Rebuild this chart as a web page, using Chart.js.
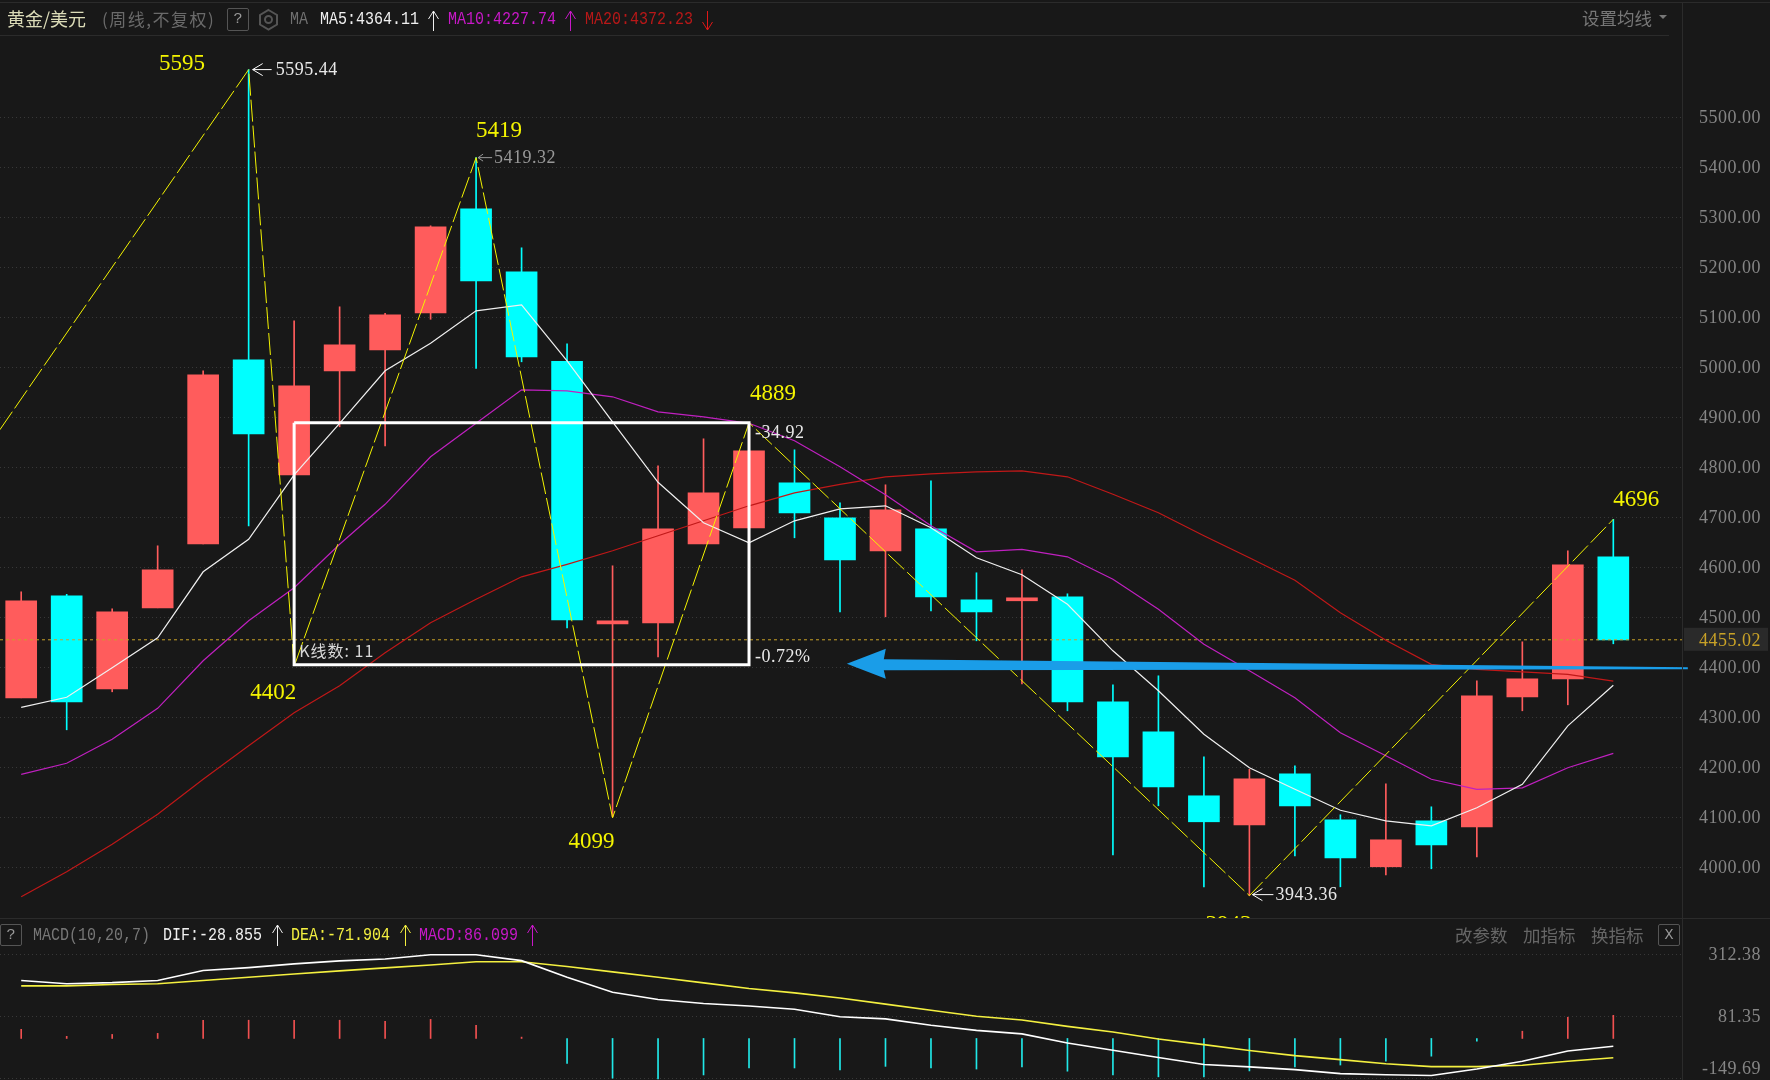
<!DOCTYPE html>
<html>
<head>
<meta charset="utf-8">
<script src="https://cdn.jsdelivr.net/npm/chart.js@4"></script>
<style>
html, body { margin: 0; padding: 0; background: #181818; overflow: hidden; }
#page { position: relative; width: 1770px; height: 1080px; background: #181818; overflow: hidden; }
canvas { position: absolute; left: 0; }
.t { position: absolute; white-space: pre; line-height: 1; transform-origin: left center; }
.ln { position: absolute; background: #2b2b2b; }
.box { position: absolute; border: 1px solid #555; border-radius: 2px; box-sizing: border-box; color: #999; text-align: center; font: 15px "Liberation Mono"; line-height: 21px; }
svg { position: absolute; left: 0; top: 0; }
</style>
</head>
<body>
<div id="page">
    <canvas id="kline" width="1770" height="918" style="top:0"></canvas>
    <canvas id="macd" width="1770" height="162" style="top:918px"></canvas>
    <div class="ln" style="left:0;top:2px;width:1770px;height:1px"></div>
    <div class="ln" style="left:0;top:35px;width:1669px;height:1px"></div>
    <div class="ln" style="left:1682px;top:3px;width:1px;height:1077px"></div>
    <div class="ln" style="left:0;top:918px;width:1770px;height:1px"></div>
    <div class="box" style="left:227px;top:8px;width:22px;height:23px">?</div>
    <div class="box" style="left:0;top:924px;width:22px;height:22px">?</div>
    <div class="box" style="left:1658px;top:924px;width:22px;height:22px">X</div>
    <svg id="icons" width="1770" height="1080"></svg>
</div>
<script>
// 周线K线
var indexes = [0,1,2,3,4,5,6,7,8,9,10,11,12,13,14,15,16,17,18,19,20,21,22,23,24,25,26,27,28,29,30,31,32,33,34,35];
var opens = [4339,4543,4357,4519,4647,5015,4785,4993,5035,5109,5317,5191,5012,4487,4489,4647,4679,4769,4699,4633,4677,4535,4533,4541,4331,4271,4143,4085,4187,4095,4001,4093,4081,4341,4377,4621];
var closes = [4533,4331,4511,4595,4985,4867,4963,5045,5105,5281,5173,5021,4495,4493,4677,4749,4833,4709,4615,4715,4541,4511,4539,4331,4221,4161,4091,4177,4123,4019,4055,4045,4343,4377,4605,4455];
var highs = [4551,4546,4517,4643,4993,5595.44,5093,5121,5108,5283,5419.32,5239,5047,4603,4803,4857,4889,4835,4729,4765,4773,4589,4595,4547,4365,4383,4221,4196,4203,4105,4167,4121,4373,4451,4633,4696];
var lows = [4339,4275,4351,4519,4647,4683,4785,4881,4843,5096,4998,5011,4479,4101,4421,4647,4679,4659,4511,4501,4513,4453,4367,4313,4025,4123,3961,3943.36,4023,3961,3985,3997,4021,4313,4325,4447];

// 均线
var ma5 = [4320,4340,4399,4459,4591,4656,4785,4888,4993,5048,5113,5125,5013,4891,4770,4689,4649,4693,4717,4723,4679,4619,4585,4526,4433,4353,4266,4199,4156,4114,4093,4083,4119,4166,4283,4364.11];
var ma10 = [4186,4208,4256,4318,4413,4493,4559,4646,4726,4821,4888,4955,4953,4941,4911,4901,4888,4853,4801,4745,4683,4631,4636,4621,4576,4516,4446,4393,4339,4269,4223,4176,4156,4159,4199,4227.74];
var ma20 = [3941,3991,4046,4106,4176,4243,4309,4363,4429,4489,4536,4581,4606,4633,4663,4693,4723,4749,4766,4781,4787,4791,4793,4781,4746,4709,4663,4619,4574,4509,4454,4406,4396,4391,4386,4372.23];

// 波段转折点
var zigIndexes = [-0.47,5,6,10,13,16,27,35];
var zigValues = [4875,5595.44,4402,5419.32,4099,4889,3943.36,4696];
var pivotLabels = ["5595","5419","4402","4099","4889","3943","4696"];
var pivotIndexes = [5,10,6,13,16,27,35];
var pivotValues = [5595.44,5419.32,4402,4099,4889,3943.36,4696];

// 区间框
var rangeIndexes = [6,16,16,6,6];
var rangeValues = [4889,4889,4405,4405,4889];

var lastPrice = 4455.02;
var priceTicks = [4000,4100,4200,4300,4400,4500,4600,4700,4800,4900,5000,5100,5200,5300,5400,5500];

// MACD
var dif = [216,204,208,216,253,264,278,289,296,312,312,290,228,172,145,130,121,109,81,73,49,30,17,-17,-44,-71,-97,-106,-116,-131,-135,-138,-114,-85,-47,-28.855];
var dea = [196,196,201,204,216,228,240,252,263,274,286,286,268,248,228,207,186,170,151,128,105,83,69,45,24,-2,-23,-45,-64,-79,-94,-105,-105,-100,-85,-71.904];
var hist = [34,8,15,19,68,68,68,68,64,71,49,5,-93,-148,-151,-136,-110,-110,-117,-104,-110,-114,-106,-122,-136,-143,-143,-121,-106,-99,-85,-66,-10,27,79,86.099];
var macdTicks = [312.38,81.35,-149.69];

var RED = "#ff5c5c", CYAN = "#00ffff", YELLOW = "#f4f400", BG_GRID = "#383838";
var MONO = '"Liberation Mono"', SERIF = '"Liberation Serif"', CJK = '"Noto Sans CJK SC"';

Chart.defaults.animation = false;
Chart.defaults.responsive = false;

var lineOf = function (values) {
    return values.map(function (v, i) { return { x: indexes[i], y: v }; });
};
var xyOf = function (xs, ys) {
    return xs.map(function (x, i) { return { x: x, y: ys[i] }; });
};
var lineSet = function (data, color, width, order, dash) {
    return { type: "line", data: data, borderColor: color, borderWidth: width, pointRadius: 0, tension: 0, order: order, borderDash: dash || [] };
};
var barSet = function (data, colors, thick, order) {
    return { type: "bar", data: data, backgroundColor: colors, barThickness: thick, borderWidth: 0, grouped: false, order: order };
};
var xScale = { type: "linear", display: false, min: -0.466, max: 36.51, offset: false, grid: { display: false } };

var yScale = function (min, max, ticks) {
    return {
        position: "right", min: min, max: max,
        afterBuildTicks: function (axis) { axis.ticks = ticks.map(function (v) { return { value: v }; }); },
        afterFit: function (axis) { axis.width = 79; axis.paddingTop = 0; axis.paddingBottom = 0; },
        grid: { color: BG_GRID, drawTicks: false },
        border: { display: false, dash: [1, 3] },
        ticks: {
            padding: 8, crossAlign: "far", color: "#858585", autoSkip: false, labelOffset: 1,
            font: { family: SERIF, size: 18 },
            callback: function (v) {
                var s = Number(v).toFixed(2);
                // 最下面的标签往上提，不出窗格
                return v < 0 ? [s, ""] : s;
            }
        }
    };
};

var drawArrow = function (ctx, x1, x2, y, color, head) {
    ctx.strokeStyle = color;
    ctx.lineWidth = 1;
    ctx.beginPath();
    ctx.moveTo(x2, y); ctx.lineTo(x1, y);
    ctx.moveTo(x1 + head, y - head / 2 - 1); ctx.lineTo(x1, y); ctx.lineTo(x1 + head, y + head / 2 + 1);
    ctx.stroke();
};

// 刻度数字略微拉宽
var tickSpacing = {
    id: "tickSpacing",
    beforeDraw: function (chart) { chart.ctx.letterSpacing = "0.5px"; }
};

// 图上的文字、箭头、现价标签
var annotate = {
    id: "annotate",
    afterDatasetsDraw: function (chart) {
        var ctx = chart.ctx, xs = chart.scales.x, ys = chart.scales.y, area = chart.chartArea;
        var px = function (i) { return xs.getPixelForValue(i); };
        var py = function (v) { return ys.getPixelForValue(v); };
        var text = function (s, x, y, color, font) {
            ctx.fillStyle = color; ctx.font = font; ctx.textAlign = "left"; ctx.textBaseline = "middle";
            ctx.fillText(s, x, y + 1);
        };

        ctx.save();
        ctx.letterSpacing = "0px";
        ctx.beginPath();
        ctx.rect(area.left, area.top, area.right - area.left, area.bottom - area.top);
        ctx.clip();
        var offsets = [[-89.6, -7], [0, -28], [-44, 26], [-44, 23], [1, -30], [-44, 28], [0, -20]];
        pivotLabels.forEach(function (s, k) {
            text(s, px(pivotIndexes[k]) + offsets[k][0], py(pivotValues[k]) + offsets[k][1], YELLOW, "23px " + SERIF);
        });
        ctx.restore();

        ctx.letterSpacing = "0.5px";
        var small = "18px " + SERIF;
        drawArrow(ctx, px(5) + 4, px(5) + 23, py(5595.44), "#ffffff", 10);
        text("5595.44", px(5) + 27, py(5595.44), "#e8e8e8", small);
        drawArrow(ctx, px(10) + 2, px(10) + 16, py(5419.32), "#999999", 5);
        text("5419.32", px(10) + 18, py(5419.32), "#999999", small);
        drawArrow(ctx, px(27) + 3, px(27) + 24, py(3943.36) - 1, "#ffffff", 10);
        text("3943.36", px(27) + 26, py(3943.36) - 1, "#e8e8e8", small);
        text("-34.92", px(16) + 6, py(4870), "#e8e8e8", small);
        text("-0.72%", px(16) + 6, py(4422), "#e8e8e8", small);
        ctx.letterSpacing = "1px";
        text("K线数: 11", px(6) + 5, py(4435), "#d8d8d8", "16px " + CJK);
        ctx.letterSpacing = "0.5px";

        // 现价
        ctx.fillStyle = "#2a2a2a";
        ctx.fillRect(area.right + 2, py(lastPrice) - 12, 84, 23);
        text(lastPrice.toFixed(2), area.right + 17, py(lastPrice), "#c9a227", small);

        // 蓝色箭头
        var tipX = px(18.15), tipY = py(4407);
        ctx.fillStyle = "#1a9de8";
        ctx.beginPath();
        ctx.moveTo(tipX, tipY);
        ctx.lineTo(tipX + 39, tipY - 15);
        ctx.lineTo(tipX + 37, tipY - 4.5);
        ctx.lineTo(tipX + 841, tipY + 3.5);
        ctx.lineTo(tipX + 841, tipY + 5.5);
        ctx.lineTo(tipX + 37, tipY + 6.5);
        ctx.lineTo(tipX + 39, tipY + 15);
        ctx.closePath();
        ctx.fill();
    }
};

new Chart(document.getElementById("kline"), {
    type: "bar",
    data: {
        datasets: [
            barSet(indexes.map(function (i) { return { x: i, y: [lows[i], highs[i]] }; }),
                indexes.map(function (i) { return closes[i] >= opens[i] ? RED : CYAN; }), 1, 7),
            barSet(indexes.map(function (i) { return { x: i, y: [opens[i], closes[i]] }; }),
                indexes.map(function (i) { return closes[i] >= opens[i] ? RED : CYAN; }), 31, 6),
            lineSet(xyOf([-0.466, 36.51], [lastPrice, lastPrice]), "#c9a227", 1, 5, [3, 3]),
            lineSet(lineOf(ma20), "#c01818", 1.2, 4),
            lineSet(lineOf(ma10), "#c020c0", 1.2, 3),
            lineSet(lineOf(ma5), "#f0f0f0", 1.2, 2),
            lineSet(xyOf(zigIndexes, zigValues), YELLOW, 1, 1, [22, 4]),
            lineSet(xyOf(rangeIndexes, rangeValues), "#ffffff", 3, 0)
        ]
    },
    options: {
        layout: { padding: { top: 35, right: 9 } },
        plugins: { legend: { display: false }, tooltip: { enabled: false } },
        scales: { x: xScale, y: yScale(3898.6, 5664.6, priceTicks) }
    },
    plugins: [tickSpacing, annotate]
});

new Chart(document.getElementById("macd"), {
    type: "bar",
    data: {
        datasets: [
            barSet(indexes.map(function (i) { return { x: i, y: [0, hist[i]] }; }),
                hist.map(function (v) { return v >= 0 ? "#f05050" : "#20e8e8"; }), 1, 3),
            lineSet(lineOf(dea), "#f4f040", 1.6, 2),
            lineSet(lineOf(dif), "#ffffff", 1.6, 1)
        ]
    },
    options: {
        layout: { padding: { right: 9 } },
        plugins: { legend: { display: false }, tooltip: { enabled: false } },
        scales: { x: xScale, y: yScale(-154.8, 448.9, macdTicks) }
    },
    plugins: [tickSpacing]
});

// 顶部文字
var page = document.getElementById("page");
var label = function (s, x, y, color, font, size, spacing) {
    var d = document.createElement("div");
    d.className = "t";
    d.textContent = s;
    d.style.cssText = "left:" + x + "px;top:" + (y - size / 2) + "px;color:" + color + ";font-family:" + font + ";font-size:" + size + "px;letter-spacing:" + (spacing || 0) + "px";
    if (font === MONO) d.style.transform = "scaleY(1.2)";
    page.appendChild(d);
};
label("黄金/美元", 7, 18, "#dcdcb8", CJK, 18);
label("(周线,不复权)", 102, 18, "#6a6a6a", CJK, 17, 1.5);
label("MA", 290, 19, "#707070", MONO, 15);
label("MA5:4364.11", 320, 19, "#f0f0f0", MONO, 15);
label("MA10:4227.74", 448, 19, "#c818c8", MONO, 15);
label("MA20:4372.23", 585, 19, "#b81818", MONO, 15);
label("设置均线", 1582, 18, "#777777", CJK, 17.5);
label("MACD(10,20,7)", 33, 935, "#777777", MONO, 15);
label("DIF:-28.855", 163, 935, "#f0f0f0", MONO, 15);
label("DEA:-71.904", 291, 935, "#f4f040", MONO, 15);
label("MACD:86.099", 419, 935, "#c818c8", MONO, 15);
label("改参数", 1455, 935, "#666666", CJK, 17.5);
label("加指标", 1523, 935, "#666666", CJK, 17.5);
label("换指标", 1591, 935, "#666666", CJK, 17.5);

var arrowPath = function (x, y1, y2, color) {
    var dir = y2 < y1 ? 1 : -1;
    return '<path fill="none" stroke="' + color + '" d="M' + x + ' ' + y1 + 'L' + x + ' ' + y2 +
        'M' + (x - 5) + ' ' + (y2 + dir * 8) + 'L' + x + ' ' + y2 + 'L' + (x + 5) + ' ' + (y2 + dir * 8) + '"/>';
};
document.getElementById("icons").innerHTML =
    arrowPath(433.5, 31, 11, "#f0f0f0") + arrowPath(570.5, 31, 11, "#c818c8") + arrowPath(707.5, 11, 30, "#e01818") +
    arrowPath(277.5, 946, 925, "#f0f0f0") + arrowPath(405.5, 946, 925, "#f4f040") + arrowPath(532.5, 946, 925, "#c818c8") +
    '<path fill="#777" d="M1659 15h8l-4 4z"/>' +
    '<circle cx="268.5" cy="19.5" r="3.5" fill="none" stroke="#555" stroke-width="2"/>' +
    '<path fill="none" stroke="#555" stroke-width="2" d="M268.5 10l8.5 5v9.5l-8.5 5l-8.5-5v-9.5z"/>';
</script>
</body>
</html>
